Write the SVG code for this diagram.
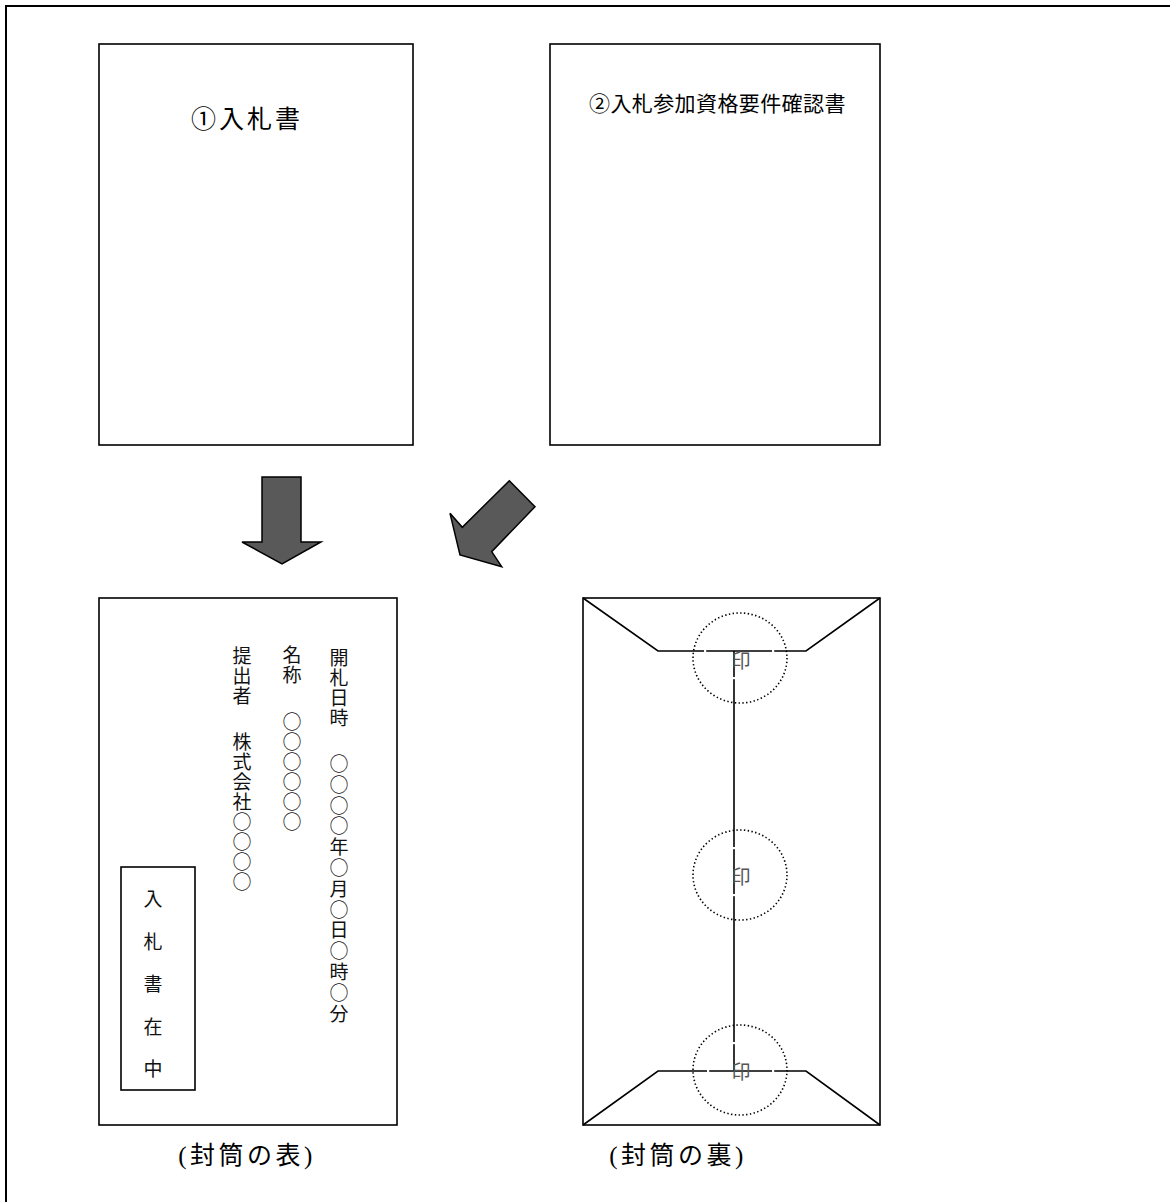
<svg xmlns="http://www.w3.org/2000/svg" width="1170" height="1202" viewBox="0 0 1170 1202">
<style>
.box{fill:none;stroke:#000;stroke-width:1.6}
.ln{fill:none;stroke:#000;stroke-width:1.6}
.seal{fill:none;stroke:#000;stroke-width:1.6;stroke-dasharray:1.4 2.4}
.arrow{fill:#595959;stroke:#000;stroke-width:1.5;stroke-linejoin:miter}
.t{font-family:"Liberation Serif","Noto Sans CJK JP",serif;fill:#000}
.v{font-family:"Noto Sans CJK JP",sans-serif;font-size:19px;fill:#111;text-anchor:middle;dominant-baseline:central}
.stamp{font-family:"Noto Sans CJK JP",sans-serif;font-size:19px;fill:#555;text-anchor:middle;dominant-baseline:central}
.gap{fill:#fff}
</style>
<rect x="0" y="0" width="1170" height="1202" fill="#fff"/>
<rect id="frame" x="6" y="6" width="1200" height="1250" fill="none" stroke="#000" stroke-width="2"/>

<g id="doc1">
<rect class="box" x="99" y="44" width="314" height="401"/>
<text class="t" x="191" y="128" font-size="25" letter-spacing="3">①入札書</text>
</g>

<g id="doc2">
<rect class="box" x="550" y="44" width="330" height="401"/>
<text class="t" x="589" y="111" font-size="21" letter-spacing="0.4">②入札参加資格要件確認書</text>
</g>

<g id="connectors">
<polygon class="arrow" points="262,477 301,477 301,542 321,542 282,564 242,542 262,542"/>
<polygon class="arrow" points="509.3,480.7 535,506.7 491.7,551.7 501.7,566.7 460,555 450,513.3 462.3,527.3"/>
</g>

<g id="envelope-front">
<rect class="box" x="99" y="598" width="298" height="527"/>
<text class="v"><tspan x="339" y="656">開</tspan><tspan x="339" y="676">札</tspan><tspan x="339" y="696">日</tspan><tspan x="339" y="716">時</tspan><tspan x="339" y="762">○</tspan><tspan x="339" y="782.8">○</tspan><tspan x="339" y="803.6">○</tspan><tspan x="339" y="824.4">○</tspan><tspan x="339" y="845.2">年</tspan><tspan x="339" y="866">○</tspan><tspan x="339" y="886.8">月</tspan><tspan x="339" y="907.6">○</tspan><tspan x="339" y="928.4">日</tspan><tspan x="339" y="949.2">○</tspan><tspan x="339" y="970">時</tspan><tspan x="339" y="990.8">○</tspan><tspan x="339" y="1011.6">分</tspan></text>
<text class="v"><tspan x="292" y="653">名</tspan><tspan x="292" y="673">称</tspan><tspan x="292" y="720">○</tspan><tspan x="292" y="740">○</tspan><tspan x="292" y="760">○</tspan><tspan x="292" y="780">○</tspan><tspan x="292" y="800">○</tspan><tspan x="292" y="820">○</tspan></text>
<text class="v"><tspan x="242" y="654">提</tspan><tspan x="242" y="674">出</tspan><tspan x="242" y="694">者</tspan><tspan x="242" y="740">株</tspan><tspan x="242" y="760">式</tspan><tspan x="242" y="780">会</tspan><tspan x="242" y="800">社</tspan><tspan x="242" y="820">○</tspan><tspan x="242" y="840">○</tspan><tspan x="242" y="860">○</tspan><tspan x="242" y="880">○</tspan></text>
<g id="enclosed">
<rect class="box" x="121" y="867" width="74" height="223"/>
<text class="v" font-size="18" fill="#222"><tspan x="153" y="897">入</tspan><tspan x="153" y="940">札</tspan><tspan x="153" y="982">書</tspan><tspan x="153" y="1025">在</tspan><tspan x="153" y="1067">中</tspan></text>
</g>
</g>
<text id="caption-front" class="t" x="247" y="1164" font-size="25" letter-spacing="3.5" text-anchor="middle">(封筒の表)</text>

<g id="envelope-back">
<rect class="box" x="583" y="598" width="297" height="527"/>
<polyline class="ln" points="583,598 658,651 806,651 880,598"/>
<polyline class="ln" points="583,1125 658,1071 806,1071 880,1125"/>
<line class="ln" x1="734" y1="651" x2="734" y2="1071"/>
<g class="gap">
<rect x="704" y="648" width="2.2" height="6"/>
<rect x="772" y="648" width="2.2" height="6"/>
<rect x="731" y="677" width="6" height="2.2"/>
<rect x="731" y="847" width="6" height="2.2"/>
<rect x="731" y="894" width="6" height="2.2"/>
<rect x="731" y="1042" width="6" height="2.2"/>
<rect x="707" y="1068" width="2.2" height="6"/>
<rect x="772" y="1068" width="2.2" height="6"/>
</g>
<ellipse class="seal" cx="740" cy="658" rx="47" ry="45"/>
<ellipse class="seal" cx="740" cy="875" rx="47" ry="45"/>
<ellipse class="seal" cx="740" cy="1070" rx="47" ry="45"/>
<text class="stamp" x="741" y="659">印</text>
<text class="stamp" x="741" y="875">印</text>
<text class="stamp" x="741" y="1070">印</text>
</g>
<text id="caption-back" class="t" x="678" y="1164" font-size="25" letter-spacing="3.5" text-anchor="middle">(封筒の裏)</text>
</svg>
